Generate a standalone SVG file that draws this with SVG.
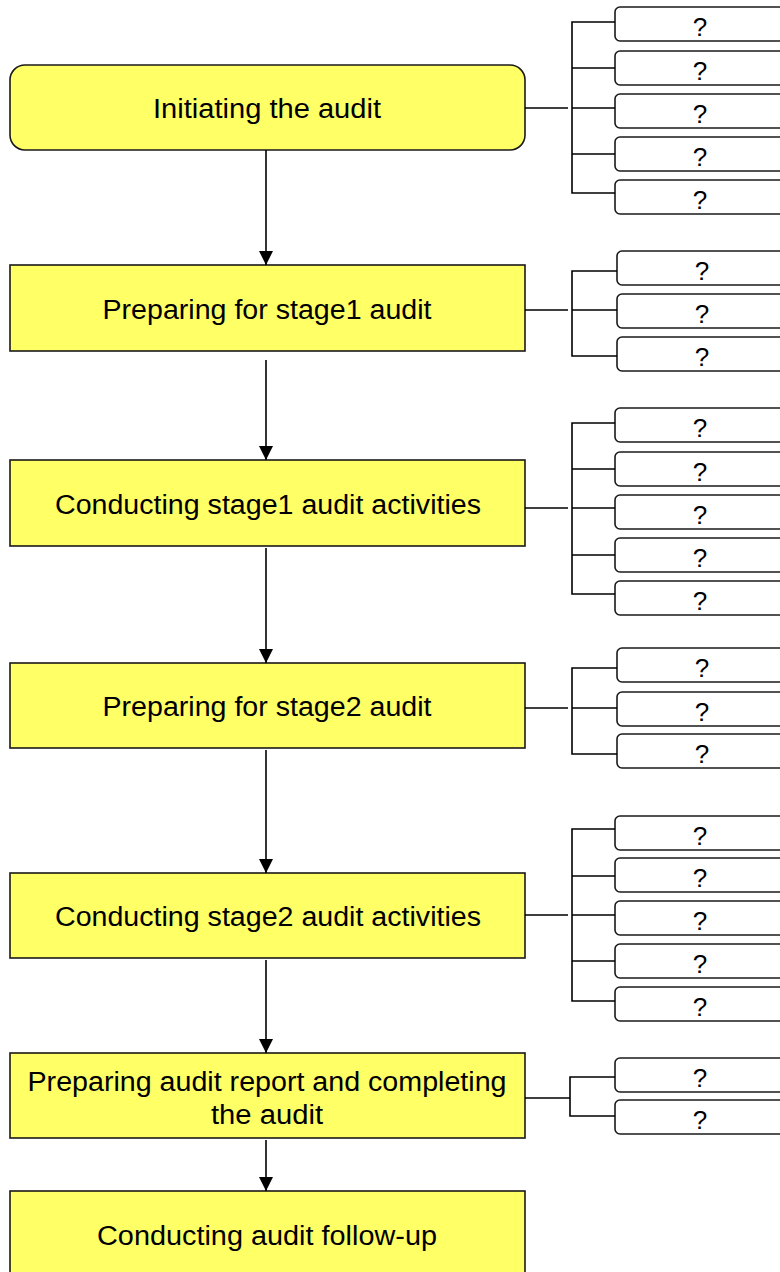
<svg xmlns="http://www.w3.org/2000/svg" width="780" height="1272" viewBox="0 0 780 1272">
  <style>
    .step { fill: #FFFF66; stroke: #1a1a1a; stroke-width: 1.6; }
    .step-text { font-family: "Liberation Sans", Arial, sans-serif; font-size: 27px; fill: #000; text-anchor: middle; }
    .item { fill: #FFFFFF; stroke: #1a1a1a; stroke-width: 1.6; }
    .item-text { font-family: "Liberation Sans", Arial, sans-serif; font-size: 26px; fill: #000; text-anchor: middle; }
    .link { fill: none; stroke: #000; stroke-width: 1.6; }
  </style>
  <defs>
    <marker id="arrow" markerUnits="userSpaceOnUse" markerWidth="14" markerHeight="14" refX="14" refY="7" orient="auto">
      <path d="M0,0 L14,7 L0,14 Z" fill="#000"/>
    </marker>
  </defs>

  <rect width="780" height="1272" fill="#FFFFFF"/>

  <!-- main process steps -->
  <g id="step1">
    <rect class="step" x="10" y="65" width="515" height="85" rx="15" ry="15"/>
    <text class="step-text" x="267" y="118" textLength="228" lengthAdjust="spacingAndGlyphs">Initiating the audit</text>
  </g>
  <g id="step2">
    <rect class="step" x="10" y="265" width="515" height="86"/>
    <text class="step-text" x="267" y="319" textLength="329" lengthAdjust="spacingAndGlyphs">Preparing for stage1 audit</text>
  </g>
  <g id="step3">
    <rect class="step" x="10" y="460" width="515" height="86"/>
    <text class="step-text" x="268" y="514" textLength="426" lengthAdjust="spacingAndGlyphs">Conducting stage1 audit activities</text>
  </g>
  <g id="step4">
    <rect class="step" x="10" y="663" width="515" height="85"/>
    <text class="step-text" x="267" y="716" textLength="329" lengthAdjust="spacingAndGlyphs">Preparing for stage2 audit</text>
  </g>
  <g id="step5">
    <rect class="step" x="10" y="873" width="515" height="85"/>
    <text class="step-text" x="268" y="926" textLength="426" lengthAdjust="spacingAndGlyphs">Conducting stage2 audit activities</text>
  </g>
  <g id="step6">
    <rect class="step" x="10" y="1053" width="515" height="85"/>
    <text class="step-text" x="267" y="1091" textLength="479" lengthAdjust="spacingAndGlyphs">Preparing audit report and completing</text>
    <text class="step-text" x="267" y="1124" textLength="112" lengthAdjust="spacingAndGlyphs">the audit</text>
  </g>
  <g id="step7">
    <rect class="step" x="10" y="1191" width="515" height="100"/>
    <text class="step-text" x="267" y="1245" textLength="340" lengthAdjust="spacingAndGlyphs">Conducting audit follow-up</text>
  </g>

  <!-- sub-items for each step -->
  <g id="items1">
    <rect class="item" x="615" y="7" width="200" height="34" rx="5"/>
    <text class="item-text" x="700" y="36">?</text>
    <rect class="item" x="615" y="51" width="200" height="34" rx="5"/>
    <text class="item-text" x="700" y="80">?</text>
    <rect class="item" x="615" y="94" width="200" height="34" rx="5"/>
    <text class="item-text" x="700" y="123">?</text>
    <rect class="item" x="615" y="137" width="200" height="34" rx="5"/>
    <text class="item-text" x="700" y="166">?</text>
    <rect class="item" x="615" y="180" width="200" height="34" rx="5"/>
    <text class="item-text" x="700" y="209">?</text>
  </g>
  <g id="items2">
    <rect class="item" x="617" y="251" width="200" height="34" rx="5"/>
    <text class="item-text" x="702" y="280">?</text>
    <rect class="item" x="617" y="294" width="200" height="34" rx="5"/>
    <text class="item-text" x="702" y="323">?</text>
    <rect class="item" x="617" y="337" width="200" height="34" rx="5"/>
    <text class="item-text" x="702" y="366">?</text>
  </g>
  <g id="items3">
    <rect class="item" x="615" y="408" width="200" height="34" rx="5"/>
    <text class="item-text" x="700" y="437">?</text>
    <rect class="item" x="615" y="452" width="200" height="34" rx="5"/>
    <text class="item-text" x="700" y="481">?</text>
    <rect class="item" x="615" y="495" width="200" height="34" rx="5"/>
    <text class="item-text" x="700" y="524">?</text>
    <rect class="item" x="615" y="538" width="200" height="34" rx="5"/>
    <text class="item-text" x="700" y="567">?</text>
    <rect class="item" x="615" y="581" width="200" height="34" rx="5"/>
    <text class="item-text" x="700" y="610">?</text>
  </g>
  <g id="items4">
    <rect class="item" x="617" y="648" width="200" height="34" rx="5"/>
    <text class="item-text" x="702" y="677">?</text>
    <rect class="item" x="617" y="692" width="200" height="34" rx="5"/>
    <text class="item-text" x="702" y="721">?</text>
    <rect class="item" x="617" y="734" width="200" height="34" rx="5"/>
    <text class="item-text" x="702" y="763">?</text>
  </g>
  <g id="items5">
    <rect class="item" x="615" y="816" width="200" height="34" rx="5"/>
    <text class="item-text" x="700" y="845">?</text>
    <rect class="item" x="615" y="858" width="200" height="34" rx="5"/>
    <text class="item-text" x="700" y="887">?</text>
    <rect class="item" x="615" y="901" width="200" height="34" rx="5"/>
    <text class="item-text" x="700" y="930">?</text>
    <rect class="item" x="615" y="944" width="200" height="34" rx="5"/>
    <text class="item-text" x="700" y="973">?</text>
    <rect class="item" x="615" y="987" width="200" height="34" rx="5"/>
    <text class="item-text" x="700" y="1016">?</text>
  </g>
  <g id="items6">
    <rect class="item" x="615" y="1058" width="200" height="34" rx="5"/>
    <text class="item-text" x="700" y="1087">?</text>
    <rect class="item" x="615" y="1100" width="200" height="34" rx="5"/>
    <text class="item-text" x="700" y="1129">?</text>
  </g>

  <!-- connectors -->
  <g id="connectors">
    <!-- flow between steps -->
    <line class="link" x1="266" y1="150" x2="266" y2="265" marker-end="url(#arrow)"/>
    <line class="link" x1="266" y1="360" x2="266" y2="460" marker-end="url(#arrow)"/>
    <line class="link" x1="266" y1="548" x2="266" y2="663" marker-end="url(#arrow)"/>
    <line class="link" x1="266" y1="750" x2="266" y2="873" marker-end="url(#arrow)"/>
    <line class="link" x1="266" y1="960" x2="266" y2="1053" marker-end="url(#arrow)"/>
    <line class="link" x1="266" y1="1140" x2="266" y2="1191" marker-end="url(#arrow)"/>

    <!-- brackets to sub-items -->
    <path class="link" d="M525,108 H568 M615,22 H572 V193 H615 M572,68 H615 M572,108 H615 M572,154 H615"/>
    <path class="link" d="M525,310 H568 M617,271 H572 V356 H617 M572,310 H617"/>
    <path class="link" d="M525,508 H568 M615,423 H572 V594 H615 M572,469 H615 M572,508 H615 M572,555 H615"/>
    <path class="link" d="M525,708 H568 M617,668 H572 V754 H617 M572,708 H617"/>
    <path class="link" d="M525,915 H568 M615,829 H572 V1001 H615 M572,876 H615 M572,915 H615 M572,961 H615"/>
    <path class="link" d="M525,1098 H570 M615,1077 H570 V1116 H615"/>
  </g>
</svg>
